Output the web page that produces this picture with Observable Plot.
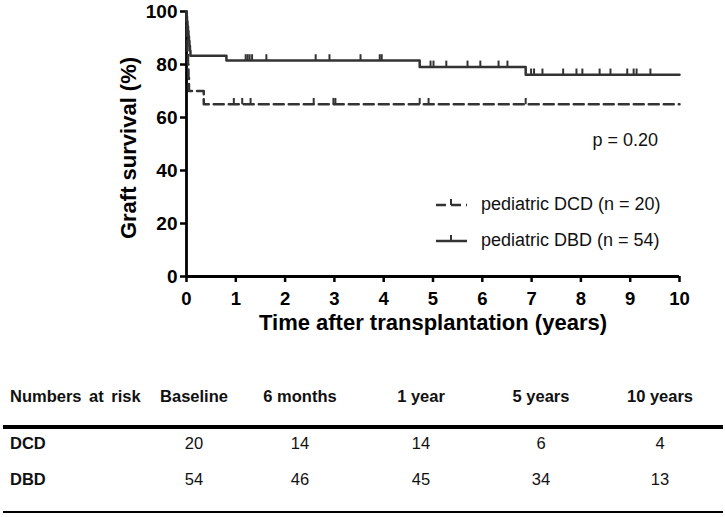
<!DOCTYPE html>
<html>
<head>
<meta charset="utf-8">
<script src="https://cdn.jsdelivr.net/npm/d3@7"></script>
<script src="https://cdn.jsdelivr.net/npm/@observablehq/plot@0.6"></script>
<style>
  body { margin: 0; background: #fff; }
  #wrap { position: relative; width: 725px; height: 517px; font-family: "Liberation Sans", Arial, sans-serif; color: #111; overflow: hidden; }
  #chart { position: absolute; left: 0; top: 0; }
  .abs { position: absolute; white-space: nowrap; line-height: 1; }
</style>
</head>
<body>
<div id="wrap">
  <div id="chart"></div>
</div>
<script>
// ---------- data ----------
const xTicks = [0, 1, 2, 3, 4, 5, 6, 7, 8, 9, 10];
const yTicks = [0, 20, 40, 60, 80, 100];

// Kaplan–Meier steps (time in years, survival %)
const dcdTime = [0, 0.005, 0.01, 0.02, 0.03, 0.04, 0.05, 0.35, 10];
const dcdSurv = [100, 95, 90, 85, 80, 75, 70, 65, 65];
const dcdCensor = [0.96, 1.13, 1.30, 2.58, 2.98, 3.02, 4.73, 4.91, 6.88];

const dbdTime = [0, 0.005, 0.01, 0.02, 0.03, 0.04, 0.05, 0.06, 0.07, 0.08, 0.81, 4.73, 6.88, 10];
const dbdSurv = [100, 98.1, 96.3, 94.4, 92.6, 90.7, 88.9, 87.0, 85.2, 83.3, 81.5, 79.1, 76.1, 76.1];
const dbdCensor = [1.20, 1.24, 1.28, 1.33, 1.62, 2.62, 2.90, 3.53, 3.92, 3.96, 4.95, 5.01, 5.27, 5.70, 5.96, 6.33, 6.51, 6.99, 7.05, 7.22, 7.64, 7.91, 8.03, 8.38, 8.60, 8.94, 9.07, 9.13, 9.41];

const legendLabels = ["pediatric DCD (n = 20)", "pediatric DBD (n = 54)"];
const pText = "p = 0.20";

const riskCols = ["Baseline", "6 months", "1 year", "5 years", "10 years"];
const riskGroups = ["DCD", "DBD"];
const dcdRisk = [20, 14, 14, 6, 4];
const dbdRisk = [54, 46, 45, 34, 13];

// ---------- helpers ----------
const lineColor = "#333";
function survAt(times, surv, t) {
  let s = surv[0];
  for (let i = 0; i < times.length; i++) if (times[i] <= t) s = surv[i];
  return s;
}
const curve = (times, surv) => times.map((t, i) => ({t, s: surv[i]}));
const censors = (c, times, surv) => c.map(t => ({t, s: survAt(times, surv, t)}));
const tickUp = { draw(ctx, size) { const h = Math.sqrt(size / Math.PI) * 1.8; ctx.moveTo(0, 0); ctx.lineTo(0, -h); } };

// ---------- plot ----------
const W = 725, H = 345;
const chart = Plot.plot({
  width: W, height: H,
  marginLeft: 186, marginRight: 46, marginTop: 11, marginBottom: 69,
  x: {domain: [0, 10]},
  y: {domain: [0, 100]},
  style: {fontFamily: "'Liberation Sans', Arial, sans-serif", color: "#000", background: "transparent", overflow: "visible"},
  marks: [
    Plot.axisX({ticks: xTicks, tickSize: 6, tickPadding: 9, fontSize: 18.5, fontWeight: "bold", strokeWidth: 2.5, label: null, tickFormat: d => String(d)}),
    Plot.axisY({ticks: yTicks, tickSize: 6, tickPadding: 3, fontSize: 19, fontWeight: "bold", strokeWidth: 2.5, label: null, tickFormat: d => String(d)}),
    Plot.ruleX([0], {strokeWidth: 2.8}),
    Plot.ruleY([0], {strokeWidth: 2.8}),
    Plot.line(curve(dcdTime, dcdSurv), {x: "t", y: "s", curve: "step-after", stroke: lineColor, strokeWidth: 2.5, strokeDasharray: "10,5"}),
    Plot.line(curve(dbdTime, dbdSurv), {x: "t", y: "s", curve: "step-after", stroke: lineColor, strokeWidth: 2.5}),
    Plot.dot(censors(dcdCensor, dcdTime, dcdSurv), {x: "t", y: "s", symbol: tickUp, r: 3.5, fill: "none", stroke: lineColor, strokeWidth: 2}),
    Plot.dot(censors(dbdCensor, dbdTime, dbdSurv), {x: "t", y: "s", symbol: tickUp, r: 3.5, fill: "none", stroke: lineColor, strokeWidth: 2}),
    Plot.text([pText], {frameAnchor: "top-left", dx: 592 - 186, dy: 133 - 11, textAnchor: "start", fontSize: 18, fill: "#111"}),
    Plot.text(["Time after transplantation (years)"], {frameAnchor: "bottom", dy: 53, fontSize: 22, fontWeight: "bold", fill: "#000"}),
    Plot.text(["Graft survival (%)"], {frameAnchor: "left", dx: -58, dy: 4, rotate: -90, textAnchor: "middle", fontSize: 22, fontWeight: "bold", fill: "#000"})
  ]
});
document.getElementById("chart").appendChild(chart);

// ---------- legend (overlay) ----------
const wrap = document.getElementById("wrap");
const legendRows = [
  {label: legendLabels[0], dash: "10,5", top: 205},
  {label: legendLabels[1], dash: null, top: 241}
];
const svgNS = "http://www.w3.org/2000/svg";
legendRows.forEach(r => {
  const s = document.createElementNS(svgNS, "svg");
  s.setAttribute("width", 34); s.setAttribute("height", 14);
  s.style.position = "absolute"; s.style.left = "434px"; s.style.top = (r.top - 9) + "px";
  const l = document.createElementNS(svgNS, "line");
  l.setAttribute("x1", 2); l.setAttribute("x2", 33); l.setAttribute("y1", 9); l.setAttribute("y2", 9);
  l.setAttribute("stroke", lineColor); l.setAttribute("stroke-width", 2.5);
  if (r.dash) l.setAttribute("stroke-dasharray", r.dash);
  const t = document.createElementNS(svgNS, "line");
  t.setAttribute("x1", 17); t.setAttribute("x2", 17); t.setAttribute("y1", 9); t.setAttribute("y2", 3);
  t.setAttribute("stroke", lineColor); t.setAttribute("stroke-width", 2);
  s.appendChild(l); s.appendChild(t);
  wrap.appendChild(s);
  const d = document.createElement("div");
  d.className = "abs"; d.textContent = r.label;
  d.style.left = "481px"; d.style.top = (r.top - 10) + "px"; d.style.fontSize = "18px";
  wrap.appendChild(d);
});

// ---------- numbers-at-risk table ----------
const colCenters = [194, 300, 421, 541, 660];
function addText(txt, x, y, opts = {}) {
  const size = opts.size || 16;
  const d = document.createElement("div");
  d.className = "abs";
  d.textContent = txt;
  d.style.fontSize = size + "px";
  d.style.fontWeight = opts.bold ? "bold" : "normal";
  if (opts.wordSpacing) d.style.wordSpacing = opts.wordSpacing + "px";
  d.style.top = (y - size / 2) + "px";
  d.style.left = x + "px";
  if (opts.center) d.style.transform = "translateX(-50%)";
  wrap.appendChild(d);
}
function addRule(y, h) {
  const d = document.createElement("div");
  d.style.position = "absolute"; d.style.left = "3px"; d.style.width = "720px";
  d.style.top = y + "px"; d.style.height = h + "px"; d.style.background = "#000";
  wrap.appendChild(d);
}
const headY = 396, rowY = [443, 479];
addText("Numbers at risk", 10, headY, {bold: true, size: 16.5, wordSpacing: 3});
riskCols.forEach((c, i) => addText(c, colCenters[i], headY, {bold: true, center: true, size: 16.5}));
addRule(425, 4);
const riskRows = [dcdRisk, dbdRisk];
riskGroups.forEach((g, j) => {
  addText(g, 10, rowY[j], {bold: true, size: 16.5});
  riskRows[j].forEach((v, i) => addText(String(v), colCenters[i], rowY[j], {size: 16.5, center: true}));
});
addRule(511, 2);
</script>
</body>
</html>
